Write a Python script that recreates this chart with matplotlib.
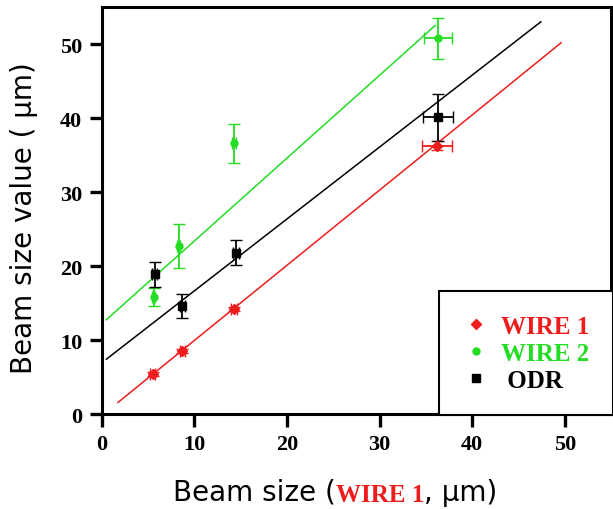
import numpy as np
import matplotlib.pyplot as plt
from matplotlib.lines import Line2D

# measured points (beam size from WIRE 1 on x)
x_w1 = [5.5, 8.7, 14.3, 36.2]
y_w1 = [5.4, 8.5, 14.2, 36.3]
xerr_w1 = [0.3, 0.3, 0.3, 1.6]
yerr_w1 = [0.3, 0.3, 0.3, 0.6]

x_w2 = [5.6, 8.3, 14.3, 36.3]
y_w2 = [15.8, 22.7, 36.6, 50.8]
xerr_w2 = [0.2, 0.2, 0.2, 1.5]
yerr_w2 = [1.2, 3.0, 2.6, 2.8]

x_odr = [5.7, 8.7, 14.5, 36.3]
y_odr = [18.9, 14.6, 21.8, 40.1]
xerr_odr = [0.3, 0.3, 0.3, 1.6]
yerr_odr = [1.7, 1.6, 1.7, 3.2]

# linear fits: slope, intercept, x range
fit_w1 = (1.016, -0.2, 1.75, 49.6)
fit_w2 = (1.12, 12.2, 0.5, 36.0)
fit_odr = (0.972, 6.94, 0.5, 47.4)

labels = ['WIRE 1', 'WIRE 2', ' ODR']

red = '#ee1c1c'
green = '#22dd22'
black = 'black'

fig = plt.figure(figsize=(6.13, 5.10), dpi=100)
ax = fig.add_axes([0.166, 0.186, 0.831, 0.798])

for (s, b, x0, x1), c in [(fit_w1, red), (fit_w2, green), (fit_odr, black)]:
    xx = np.array([x0, x1])
    ax.plot(xx, s * xx + b, color=c, lw=1.1)

ax.errorbar(x_w1, y_w1, xerr=xerr_w1, yerr=yerr_w1, fmt='D', ms=5, color=red,
            ecolor=red, elinewidth=1.3, capsize=4)
ax.errorbar(x_w2, y_w2, xerr=xerr_w2, yerr=yerr_w2, fmt='o', ms=5, color=green,
            ecolor=green, elinewidth=1.3, capsize=4)
ax.errorbar(x_odr, y_odr, xerr=xerr_odr, yerr=yerr_odr, fmt='s', ms=6, color=black,
            ecolor=black, elinewidth=1.3, capsize=4)

ax.set_xlim(0, 55)
ax.set_ylim(0, 55)
ax.set_xticks([0, 10, 20, 30, 40, 50])
ax.set_yticks([0, 10, 20, 30, 40, 50])
for sp in ax.spines.values():
    sp.set_linewidth(2.2)
ax.tick_params(direction='out', length=9, width=2.4, labelsize=16, pad=5)
for lab in ax.get_xticklabels() + ax.get_yticklabels():
    lab.set_fontweight('bold')
    lab.set_fontfamily('Liberation Serif')

ax.set_ylabel('Beam size value ( µm)', fontsize=20, family='DejaVu Sans')
ax.yaxis.set_label_coords(-0.125, 0.485)

# multi-coloured x label
t1 = fig.text(0.282, 0.018, 'Beam size (', fontsize=20, family='DejaVu Sans')
t2 = ax.annotate('WIRE 1', xy=(1, 0), xycoords=t1, va='bottom', fontsize=18,
                 family='Liberation Serif', fontweight='bold', color=red)
ax.annotate(', µm)', xy=(1, 0), xycoords=t2, va='bottom', fontsize=20,
            family='DejaVu Sans')

handles = [
    Line2D([], [], marker='D', ms=5, color=red, ls=''),
    Line2D([], [], marker='o', ms=5, color=green, ls=''),
    Line2D([], [], marker='s', ms=6, color=black, ls=''),
]
leg = ax.legend(handles, labels, loc='lower right',
                bbox_to_anchor=(1.003, -0.003), borderaxespad=0, fancybox=False,
                edgecolor='black', framealpha=1,
                prop={'family': 'Liberation Serif', 'weight': 'bold', 'size': 18},
                handletextpad=0.5, labelspacing=0.16, borderpad=0.95,
                handlelength=1.0)
leg.get_frame().set_linewidth(1.5)
for txt, c in zip(leg.get_texts(), [red, green, black]):
    txt.set_color(c)

fig.savefig('out.png', dpi=100)
